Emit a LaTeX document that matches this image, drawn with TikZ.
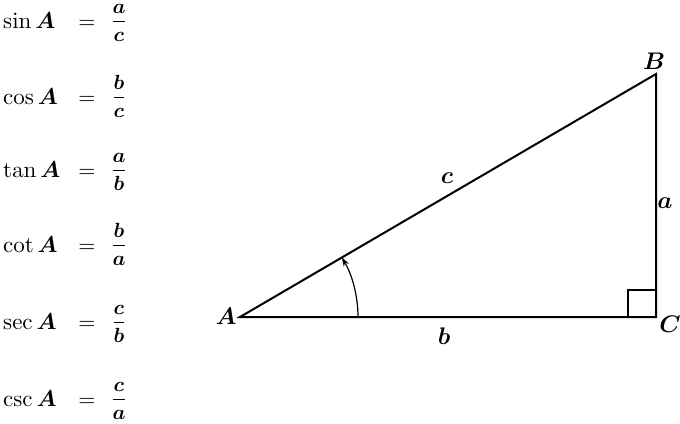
\documentclass[tikz,border=0pt]{standalone}
\usepackage{amsmath,bm,graphicx}
\usetikzlibrary{arrows.meta}
\newcommand{\bigtxt}[1]{\scalebox{2.3}{#1}}
\newcommand{\frtxt}[1]{\scalebox{2.05}{#1}}
\newcommand{\midtxt}[1]{\scalebox{2.4}{#1}}
\begin{document}
\begin{tikzpicture}[x=1pt,y=-1pt,
  lbl/.style={inner sep=0pt,anchor=base},
  fn/.style={lbl,anchor=base west},
  eq/.style={lbl},
  fr/.style={lbl},
  side/.style={line width=2pt},
  vlbl/.style={inner sep=0pt}]
\useasboundingbox (0,0) rectangle (680,423);
% formulas
\foreach \y/\f/\n/\d [count=\i] in {28/\sin/a/c,104/\cos/b/c,177/\tan/a/b,252/\cot/b/a,329/\sec/c/b,406/\csc/c/a}{
  \node[fn] (f\i) at (3,\y) {\bigtxt{$\f\bm{A}$}};
  \node[eq] (e\i) at (87,\y) {\scalebox{2.2}{$=$}};
  \node[fr] (r\i) at (119,\y-1) {\frtxt{$\dfrac{\bm{\n}}{\bm{\d}}$}};
}
% triangle
\coordinate (A) at (240,317);
\coordinate (B) at (656,74);
\coordinate (C) at (656,317);
\draw[side,line join=miter] (A) -- (B) -- (C) -- cycle;
\draw[line width=1.3pt] (628,317) -- (628,290) -- (656,290);
\draw[line width=1.2pt,-{Stealth[length=9pt,width=6pt]}] ([shift={(0:118)}]A) arc[start angle=0,end angle=-30.3,radius=118];
\node[vlbl] (lA) at (226,316) {\midtxt{$\bm{A}$}};
\node[vlbl] (lB) at (654,61) {\midtxt{$\bm{B}$}};
\node[vlbl] (lC) at (670,324) {\midtxt{$\bm{C}$}};
\node[vlbl] (la) at (665,203) {\midtxt{$\bm{a}$}};
\node[vlbl] (lb) at (444,336) {\midtxt{$\bm{b}$}};
\node[vlbl] (lc) at (447,178) {\midtxt{$\bm{c}$}};
\end{tikzpicture}
\end{document}
